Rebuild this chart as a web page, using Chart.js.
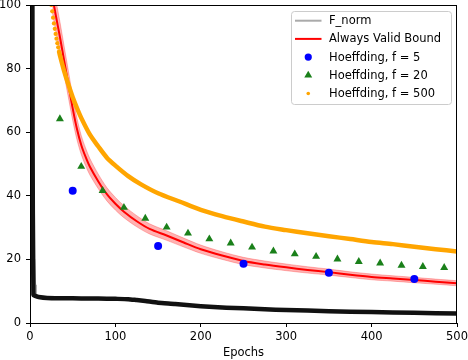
<!DOCTYPE html>
<html><head><meta charset="utf-8">
<script src="https://cdn.jsdelivr.net/npm/chart.js@4.4.1/dist/chart.umd.min.js"></script>
<style>html,body{margin:0;padding:0;background:#fff}canvas{display:block}</style>
</head><body>
<canvas id="c" width="468" height="360"></canvas>
<script>
// ---- data ----
const xTickValues = [0, 100, 200, 300, 400, 500];
const yTickValues = [0, 20, 40, 60, 80, 100];
const xLabel = 'Epochs';

const labelFnorm = 'F_norm';
const labelBound = 'Always Valid Bound';
const labelH5 = 'Hoeffding, f = 5';
const labelH20 = 'Hoeffding, f = 20';
const labelH500 = 'Hoeffding, f = 500';

const fnormEpochs = [1, 2, 3, 4, 6, 10, 20, 40, 60, 80, 100, 115, 125, 135, 150, 170, 190, 210, 230, 250, 275, 300, 350, 400, 450, 500];
const fnormValues = [600, 300, 60, 8.8, 8.5, 8.2, 7.9, 7.8, 7.7, 7.7, 7.6, 7.5, 7.2, 6.9, 6.4, 6.0, 5.5, 5.1, 4.8, 4.6, 4.3, 4.1, 3.7, 3.45, 3.2, 3.0];
const fnormAltEpochs = [1, 3, 4, 5, 6, 7, 12];
const fnormAltValues = [300, 40, 20.5, 20, 12, 8.6, 8.2];

const boundEpochs = [26, 28, 30, 35, 40, 45, 50, 55, 60, 65, 70, 80, 90, 100, 110, 125, 140, 160, 180, 200, 225, 250, 275, 300, 325, 350, 375, 400, 425, 450, 475, 500];
const boundValues = [103, 100, 97, 90, 82.5, 75, 67.5, 61, 56, 52.3, 49.2, 44.5, 40.5, 37.5, 35, 32, 29.6, 27.5, 25.3, 23.2, 21.2, 19.5, 18.4, 17.5, 16.7, 16.0, 15.2, 14.5, 14.0, 13.5, 13.0, 12.5];
const boundUpper = [108, 105, 102, 94.8, 87, 79.2, 71.3, 64.4, 59, 55.1, 51.8, 46.8, 42.6, 39.5, 36.9, 33.75, 31.2, 29, 26.7, 24.5, 22.4, 20.65, 19.5, 18.55, 17.7, 16.95, 16.1, 15.4, 14.85, 14.35, 13.8, 13.3];
const boundLower = [98, 95, 92, 85.2, 78, 70.8, 63.7, 57.6, 53, 49.5, 46.6, 42.2, 38.4, 35.5, 33.1, 30.25, 28, 26, 23.9, 21.9, 20.0, 18.35, 17.3, 16.45, 15.7, 15.05, 14.3, 13.6, 13.15, 12.65, 12.2, 11.7];

const h5Epochs = [50, 150, 250, 350, 450];
const h5Values = [41.6, 24.2, 18.6, 15.8, 13.8];

const h20Epochs = [35, 60, 85, 110, 135, 160, 185, 210, 235, 260, 285, 310, 335, 360, 385, 410, 435, 460, 485];
const h20Values = [64.2, 49.2, 41.6, 36.3, 32.9, 30.1, 28.2, 26.4, 25.1, 23.8, 22.6, 21.7, 20.9, 20.1, 19.3, 18.8, 18.1, 17.7, 17.4];

const h500Epochs = [25, 26, 27, 28, 29, 30, 31, 32, 33, 34, 35, 40, 45, 50, 55, 60, 70, 80, 90, 100, 115, 130, 150, 175, 200, 225, 250, 275, 300, 325, 350, 375, 400, 425, 450, 475, 500];
const h500Values = [100, 98, 96, 94.2, 92.5, 90.9, 89.4, 88, 86.7, 85.4, 84.2, 79.2, 74.9, 71, 67.6, 64.5, 59.3, 55.5, 52, 49.5, 46.2, 43.6, 40.8, 38.2, 35.6, 33.6, 31.9, 30.3, 29.2, 28.2, 27.3, 26.4, 25.5, 24.8, 24.0, 23.2, 22.5];

// ---- build ----
const pts = (xs, ys) => xs.map((x, i) => ({x: x, y: ys[i]}));
const FONT = 'DejaVu Sans';
const FS = 11.5;
const ORANGE = '#ffa500';
const GREEN = '#1a801a';
const BLUE = '#0000ff';
const RED = '#ff0000';
const DOTS_UNTIL = 34;

const datasets = [
  {label: labelFnorm, data: pts(fnormEpochs, fnormValues), borderColor: '#111111', borderWidth: 4.5, pointRadius: 0, order: 5, tension: 0.2},
  {label: '_fnorm_alt', data: pts(fnormAltEpochs, fnormAltValues), borderColor: 'rgba(150,150,150,0.8)', borderWidth: 2, pointRadius: 0, order: 6},
  {label: '_band_upper', data: pts(boundEpochs, boundUpper), borderColor: 'rgba(255,0,0,0.25)', borderWidth: 1, pointRadius: 0, fill: 3, backgroundColor: 'rgba(255,0,0,0.3)', order: 4, tension: 0.3},
  {label: '_band_lower', data: pts(boundEpochs, boundLower), borderColor: 'rgba(255,0,0,0.25)', borderWidth: 1, pointRadius: 0, fill: false, order: 4, tension: 0.3},
  {label: labelBound, data: pts(boundEpochs, boundValues), borderColor: RED, borderWidth: 2, pointRadius: 0, order: 3, tension: 0.3},
  {label: labelH5, data: pts(h5Epochs, h5Values), showLine: false, pointStyle: 'circle', pointRadius: 4, backgroundColor: BLUE, borderColor: BLUE, borderWidth: 0, order: 2},
  {label: labelH20, data: pts(h20Epochs, h20Values), showLine: false, pointStyle: 'triangle', pointRadius: 4.6, backgroundColor: GREEN, borderColor: GREEN, borderWidth: 0, order: 1},
  {label: labelH500, data: pts(h500Epochs, h500Values), borderColor: ORANGE, borderWidth: 4.5, backgroundColor: ORANGE, pointBorderWidth: 0,
    pointRadius: c => (c.raw && c.raw.x <= DOTS_UNTIL) ? 2.1 : 0, tension: 0.3,
    segment: {borderColor: c => c.p0.parsed.x < DOTS_UNTIL ? 'rgba(0,0,0,0)' : ORANGE}, order: 0}
];

const framePlugin = {
  id: 'frameLegend',
  afterDraw(chart) {
    const {ctx, chartArea: a} = chart;
    ctx.save();
    ctx.strokeStyle = '#000';
    ctx.lineWidth = 1;
    ctx.strokeRect(Math.round(a.left) + 0.5, Math.round(a.top) + 0.5, Math.round(a.right - a.left) - 1, Math.round(a.bottom - a.top));
    // legend
    const bx = a.right - 165.5, by = a.top + 6.5, bw = 160, bh = 93;
    ctx.beginPath();
    ctx.roundRect(bx, by, bw, bh, 3);
    ctx.fillStyle = 'rgba(255,255,255,0.85)';
    ctx.fill();
    ctx.strokeStyle = '#cccccc';
    ctx.stroke();
    const rowY = [20.7, 38.9, 57.1, 75.3, 93.5].map(v => v - 5 + a.top);
    const hx0 = bx + 3.5, hx1 = bx + 30, hc = (hx0 + hx1) / 2, tx = bx + 37.5;
    const entries = [
      {label: labelFnorm, kind: 'line', color: '#aaaaaa', w: 2},
      {label: labelBound, kind: 'line', color: RED, w: 2},
      {label: labelH5, kind: 'circle', color: BLUE, r: 3.6},
      {label: labelH20, kind: 'triangle', color: GREEN, r: 4.6},
      {label: labelH500, kind: 'circle', color: ORANGE, r: 1.8}
    ];
    ctx.font = FS + 'px "' + FONT + '"';
    ctx.textBaseline = 'middle';
    ctx.textAlign = 'left';
    entries.forEach((e, i) => {
      const y = rowY[i];
      if (e.kind === 'line') {
        ctx.beginPath(); ctx.moveTo(hx0, y); ctx.lineTo(hx1, y);
        ctx.strokeStyle = e.color; ctx.lineWidth = e.w; ctx.stroke();
      } else if (e.kind === 'circle') {
        ctx.beginPath(); ctx.arc(hc, y, e.r, 0, Math.PI * 2); ctx.fillStyle = e.color; ctx.fill();
      } else {
        const r = e.r;
        ctx.beginPath();
        ctx.moveTo(hc, y - r);
        ctx.lineTo(hc + Math.sin(2 * Math.PI / 3) * r, y + r / 2);
        ctx.lineTo(hc - Math.sin(2 * Math.PI / 3) * r, y + r / 2);
        ctx.closePath(); ctx.fillStyle = e.color; ctx.fill();
      }
      ctx.fillStyle = '#000';
      ctx.fillText(e.label, tx, y + 0.5);
    });
    ctx.restore();
  }
};

new Chart(document.getElementById('c'), {
  type: 'line',
  data: {datasets},
  plugins: [framePlugin],
  options: {
    responsive: false,
    animation: false,
    devicePixelRatio: 1,
    layout: {padding: {top: 5, right: 11, left: 0, bottom: 0}},
    plugins: {legend: {display: false}, tooltip: {enabled: false}},
    elements: {line: {fill: false}},
    scales: {
      x: {
        type: 'linear', min: 0, max: 500,
        afterBuildTicks: s => { s.ticks = xTickValues.map(v => ({value: v})); },
        afterFit: s => { s.height = 37; s.paddingLeft = 0; s.paddingRight = 0; },
        ticks: {color: '#000', font: {family: FONT, size: FS}, padding: 3.5, maxRotation: 0},
        grid: {display: true, drawOnChartArea: false, drawTicks: true, tickLength: 4, color: '#000', lineWidth: 1},
        border: {display: false},
        title: {display: true, text: xLabel, color: '#000', font: {family: FONT, size: FS}, padding: {top: 0, bottom: 0}}
      },
      y: {
        type: 'linear', min: 0, max: 100,
        afterBuildTicks: s => { s.ticks = yTickValues.map(v => ({value: v})); },
        afterFit: s => { s.width = 30; s.paddingTop = 0; s.paddingBottom = 0; },
        ticks: {color: '#000', font: {family: FONT, size: FS}, padding: 5},
        grid: {display: true, drawOnChartArea: false, drawTicks: true, tickLength: 4, color: '#000', lineWidth: 1},
        border: {display: false}
      }
    }
  }
});
</script>
</body></html>
